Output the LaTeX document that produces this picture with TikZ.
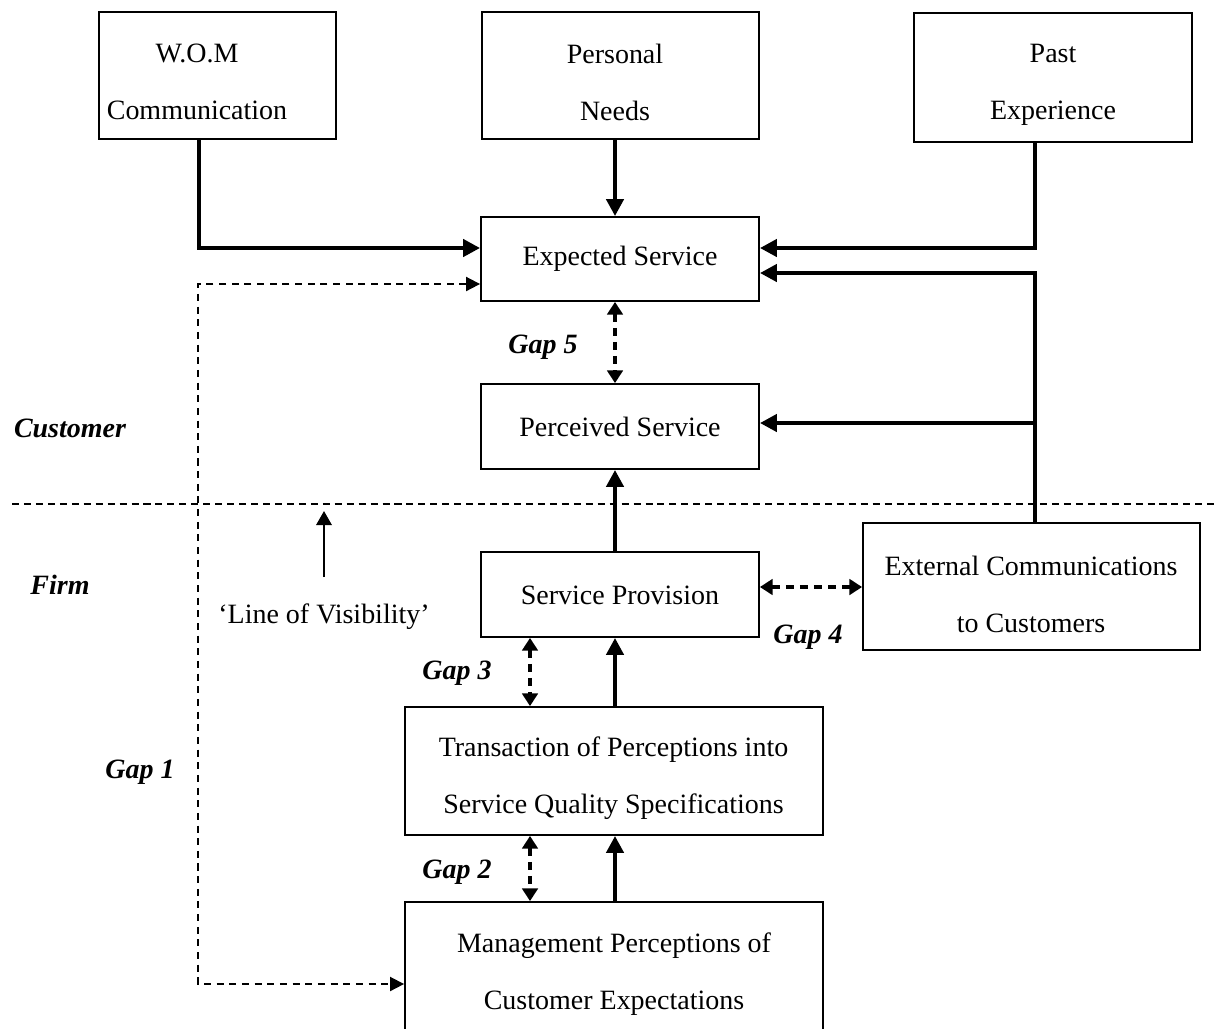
\documentclass[tikz,border=0pt]{standalone}
\usepackage{fontspec}
\setmainfont{Liberation Serif}
\usetikzlibrary{arrows.meta,fit}
\begin{document}
\begin{tikzpicture}[x=0.025cm,y=-0.025cm,
  box/.style={draw,line width=1.3pt,inner sep=0pt},
  txt/.style={align=center,inner sep=0pt,font=\fontsize{19.9pt}{40.5pt}\selectfont},
  lbl/.style={inner sep=0pt,font=\fontsize{19.9pt}{24pt}\selectfont\bfseries\itshape},
  thk/.style={line width=3.5pt,-{Triangle[length=12pt,width=12pt]}},
  gapdsh/.style={line width=2.2pt,dash pattern=on 6pt off 4pt,{Triangle[length=9pt,width=11pt]}-{Triangle[length=9pt,width=11pt]}},
  gapone/.style={line width=1.3pt,dash pattern=on 5pt off 4pt,{Triangle[length=10pt,width=10pt]}-{Triangle[length=10pt,width=10pt]}},
  visline/.style={line width=1pt,dash pattern=on 5pt off 3.5pt},
  visarrow/.style={line width=1.4pt,-{Triangle[length=10pt,width=11pt]}}
]
\useasboundingbox (0,0) rectangle (1215,1028);

% boxes
\node[box,fit={(99,12) (336,139)}] (wom) {};
\node[box,fit={(482,12) (759,139)}] (pn) {};
\node[box,fit={(914,13) (1192,142)}] (past) {};
\node[box,fit={(481,217) (759,301)}] (exp) {};
\node[box,fit={(481,384) (759,469)}] (perc) {};
\node[box,fit={(481,552) (759,637)}] (sp) {};
\node[box,fit={(863,523) (1200,650)}] (ext) {};
\node[box,fit={(405,707) (823,835)}] (tr) {};
\node[box,fit={(405,902) (823,1040)}] (mg) {};

% box texts
\node[txt] (womt) at (197,81.5) {W.O.M\\Communication};
\node[txt] (pnt) at (615,82.5) {Personal\\Needs};
\node[txt] (pastt) at (1053,85) {Past\\Experience};
\node[txt] (expt) at (620,259) {Expected Service};
\node[txt] (perct) at (620,427) {Perceived Service};
\node[txt] (spt) at (620,595) {Service Provision};
\node[txt] (extt) at (1031,594) {External Communications\\to Customers};
\node[txt] (trt) at (613.5,778.5) {Transaction of Perceptions into\\Service Quality Specifications};
\node[txt] (mgt) at (614,974) {Management Perceptions of\\Customer Expectations};

% labels
\node[lbl] (cust) at (70,428) {Customer};
\node[lbl] (firm) at (60,585) {Firm};
\node[lbl] (g5) at (543,347) {Gap 5};
\node[lbl] (g4) at (808,637) {Gap 4};
\node[lbl] (g3) at (457,673) {Gap 3};
\node[lbl] (g2) at (457,872) {Gap 2};
\node[lbl] (g1) at (140,772) {Gap 1};
\node[txt] (lov) at (324,617) {‘Line of Visibility’};

% helper coordinates
\coordinate (xw) at (199,0);
\coordinate (xp) at (615,0);
\coordinate (xr) at (1035,0);
\coordinate (xg) at (530,0);
\coordinate (ya) at (0,248);
\coordinate (yb) at (0,273);
\coordinate (yc) at (0,423);
\coordinate (yg4) at (0,587);
\coordinate (yg1) at (0,284);
\coordinate (br) at (1035,423);
\coordinate (g1c) at (198,984);
\coordinate (vl1) at (12,504);
\coordinate (vl2) at (1215,504);
\coordinate (va) at (324,577);
\coordinate (vb) at (324,511);

% thick connectors
\draw[thk] (wom.south -| xw) |- (exp.west |- ya);
\draw[thk] (pn.south -| xp) -- (exp.north -| xp);
\draw[thk] (past.south -| xr) |- (exp.east |- ya);
\draw[thk] (ext.north -| xr) |- (exp.east |- yb);
\draw[thk] (br) -- (perc.east |- yc);
\draw[thk] (sp.north -| xp) -- (perc.south -| xp);
\draw[thk] (tr.north -| xp) -- (sp.south -| xp);
\draw[thk] (mg.north -| xp) -- (tr.south -| xp);

% gap connectors
\draw[gapdsh] (exp.south -| xp) -- (perc.north -| xp);
\draw[gapdsh] (sp.east |- yg4) -- (ext.west |- yg4);
\draw[gapdsh] (sp.south -| xg) -- (tr.north -| xg);
\draw[gapdsh] (tr.south -| xg) -- (mg.north -| xg);
\draw[gapone] (exp.west |- yg1) -| (g1c) -- (mg.west |- g1c);

% line of visibility
\draw[visline] (vl1) -- (vl2);
\draw[visarrow] (va) -- (vb);
\end{tikzpicture}
\end{document}
